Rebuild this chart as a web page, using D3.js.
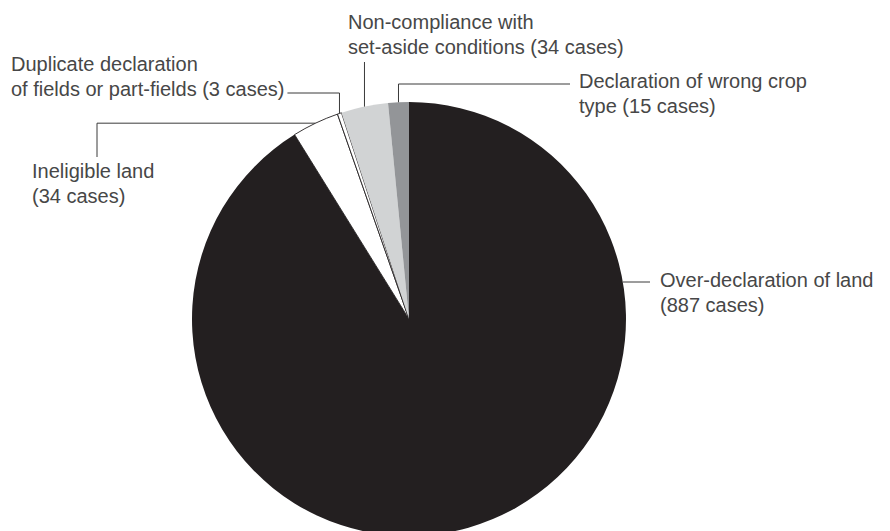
<!DOCTYPE html>
<html>
<head>
<style>
body { margin: 0; background: #fff; }
.label { font-family: "Liberation Sans", Arial, sans-serif; font-size: 20px; fill: #474747; }
.leader { fill: none; stroke: #3a3a3a; stroke-width: 1; }
</style>
</head>
<body>
<svg id="chart" width="890" height="531"></svg>
<script src="https://d3js.org/d3.v7.min.js"></script>
<script>

var categories = [
  "Over-declaration of land",
  "Ineligible land",
  "Duplicate declaration of fields or part-fields",
  "Non-compliance with set-aside conditions",
  "Declaration of wrong crop type"
];
var cases = [887, 34, 3, 34, 15];
var labelLines = [
  ["Over-declaration of land", "(887 cases)"],
  ["Ineligible land", "(34 cases)"],
  ["Duplicate declaration", "of fields or part-fields (3 cases)"],
  ["Non-compliance with", "set-aside conditions (34 cases)"],
  ["Declaration of wrong crop", "type (15 cases)"]
];

var fills = ["#231f20", "#ffffff", "#ffffff", "#d1d3d4", "#939598"];

var svg = d3.select("#chart"),
    cx = 409, cy = 319, r = 217,
    g = svg.append("g").attr("transform", "translate(" + cx + "," + cy + ")");

var data = categories.map(function(c, i) { return {name: c, value: cases[i], lines: labelLines[i]}; });

var pie = d3.pie().sort(null).value(function(d) { return d.value; });
var arc = d3.arc().innerRadius(0).outerRadius(r);
var arcs = pie(data);

g.selectAll("path")
    .data(arcs)
    .enter()
    .append("path")
    .attr("d", arc)
    .attr("fill", function(d, i) { return fills[i]; })
    .attr("stroke", function(d, i) { return fills[i] == "#ffffff" ? "#231f20" : "none"; })
    .attr("stroke-width", 0.9);

// point on the rim at the middle of a slice
function rim(d) {
  var a = (d.startAngle + d.endAngle) / 2;
  return [cx + r * Math.sin(a), cy - r * Math.cos(a)];
}

// label placement (text x, first baseline) and the leader line for each slice
var layout = [
  {x: 660, y: 287, leader: function(d) {
      var y = 282, x = cx + Math.sqrt(r * r - (y - cy) * (y - cy));
      return "M" + x + "," + y + "H650"; }},
  {x: 32, y: 178, leader: function(d) {
      var p = rim(d); return "M97,157V" + p[1] + "H" + p[0]; }},
  {x: 11, y: 71, leader: function(d, box) {
      var p = rim(d); return "M" + (box.x + box.width + 3) + ",93H" + p[0] + "V" + p[1]; }},
  {x: 348, y: 29, leader: function(d) {
      var p = rim(d); return "M" + p[0] + ",62V" + p[1]; }},
  {x: 579, y: 88, leader: function(d) {
      var p = rim(d); return "M" + p[0] + "," + p[1] + "V84H570"; }}
];

var labels = svg.append("g");

arcs.forEach(function(d, i) {
  var L = layout[i];
  var t = labels.append("text")
      .attr("class", "label")
      .attr("x", L.x)
      .attr("y", L.y);
  var last;
  d.data.lines.forEach(function(line, j) {
    last = t.append("tspan")
        .attr("x", L.x)
        .attr("dy", j ? 24.5 : 0)
        .text(line);
  });
  var w = last.node().getComputedTextLength();

  labels.append("path")
      .attr("class", "leader")
      .attr("d", L.leader(d, {x: L.x, width: w}));
});

</script>
</body>
</html>
